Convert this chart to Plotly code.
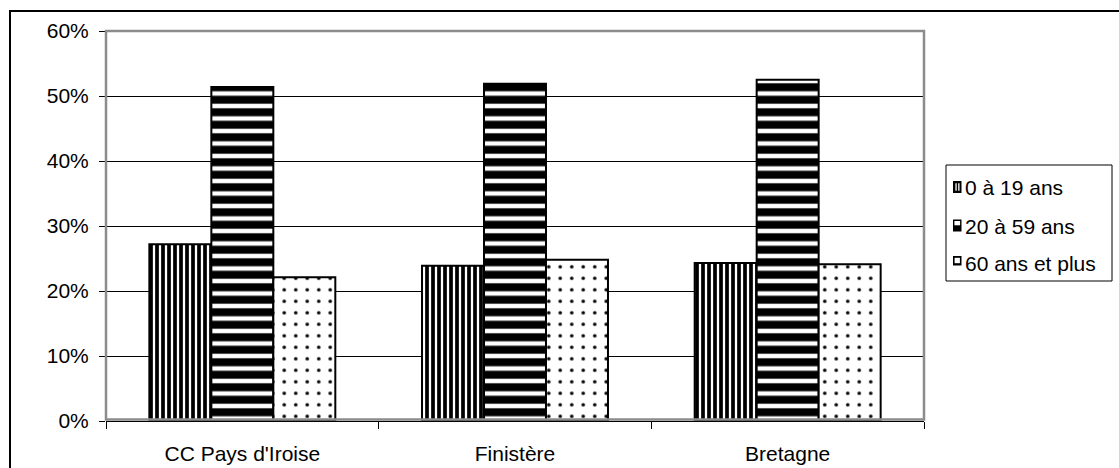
import plotly.graph_objects as go

# Population share by age group (in %)
territoires = ["CC Pays d'Iroise", "Finistère", "Bretagne"]
age_0_19 = [27.2, 23.9, 24.3]
age_20_59 = [51.4, 51.9, 52.5]
age_60_plus = [22.1, 24.8, 24.1]
series_names = ["0 à 19 ans", "20 à 59 ans", "60 ans et plus"]
y_ticks = [0, 10, 20, 30, 40, 50, 60]
y_tick_labels = [f"{v}%" for v in y_ticks]

W, H = 1119, 468
L, R, T, B = 106, 195, 31, 47
PW, PH = W - L - R, H - T - B
FONT = "Liberation Sans, Arial, sans-serif"
FS = 21


def px(x):
    return (x - L) / PW


def py(y):
    return (H - B - y) / PH


patterns = [
    dict(shape="|", size=6, solidity=0.62, fgcolor="black", bgcolor="white", fillmode="replace"),
    dict(shape="-", size=12.5, solidity=0.64, fgcolor="black", bgcolor="white", fillmode="replace"),
    dict(shape=".", size=11.5, solidity=0.075, fgcolor="black", bgcolor="white", fillmode="replace"),
]

fig = go.Figure()
for name, vals, pat in zip(series_names, [age_0_19, age_20_59, age_60_plus], patterns):
    fig.add_trace(go.Bar(
        name=name, x=territoires, y=vals,
        marker=dict(color="white", pattern=pat, line=dict(color="black", width=2)),
        showlegend=False,
    ))

shapes = []
# outer chart frame (runs off the right and bottom edges)
shapes.append(dict(type="rect", xref="paper", yref="paper",
                   x0=px(10), x1=px(1130), y0=py(11), y1=py(480),
                   line=dict(color="black", width=2), layer="below"))
# plot area frame
shapes.append(dict(type="rect", xref="paper", yref="paper",
                   x0=0, x1=1, y0=py(419.5), y1=1,
                   line=dict(color="#8c8c8c", width=2.5), layer="above"))
# legend box
shapes.append(dict(type="rect", xref="paper", yref="paper",
                   x0=px(946), x1=px(1112), y0=py(281), y1=py(165),
                   line=dict(color="black", width=1), fillcolor="white"))


def rect(x0, y0, x1, y1, fill, line_w=0):
    shapes.append(dict(type="rect", xref="paper", yref="paper",
                       x0=px(x0), x1=px(x1), y0=py(y1), y1=py(y0),
                       fillcolor=fill, line=dict(width=line_w, color="black")))


# legend keys
rect(953, 181, 961.5, 193, "black")
rect(955.4, 183.2, 956.7, 190.8, "white")
rect(958.2, 183.2, 959.5, 190.8, "white")
rect(953, 219.5, 961.5, 231.5, "black")
rect(954.4, 221, 960.1, 225.3, "white")
rect(953, 256, 961.5, 265.5, "black")
rect(954.6, 257.8, 959.9, 263.2, "white")

annotations = []
for name, yc in zip(series_names, [187, 226.5, 263.5]):
    annotations.append(dict(text=name, xref="paper", yref="paper",
                            x=px(963), y=py(yc), xanchor="left", yanchor="middle",
                            showarrow=False, font=dict(family=FONT, size=FS, color="black")))

fig.update_layout(
    width=W, height=H,
    margin=dict(l=L, r=R, t=T, b=B, pad=0, autoexpand=False),
    paper_bgcolor="white", plot_bgcolor="white",
    barmode="group", bargap=0.318, bargroupgap=0,
    showlegend=False,
    shapes=shapes, annotations=annotations,
    font=dict(family=FONT, size=FS, color="black"),
)
fig.update_xaxes(
    automargin=False,
    showline=True, linecolor="black", linewidth=1,
    ticks="outside", tickson="boundaries", ticklen=7, tickcolor="black", tickwidth=1,
    showgrid=False, tickfont=dict(family=FONT, size=FS, color="black"),
    ticklabelstandoff=14,
)
fig.update_yaxes(
    automargin=False,
    range=[0, 60], tickmode="array", tickvals=y_ticks, ticktext=y_tick_labels,
    showline=False, zeroline=False,
    showgrid=True, gridcolor="black", gridwidth=1,
    ticks="outside", ticklen=6, tickcolor="black", tickwidth=1,
    tickfont=dict(family=FONT, size=FS, color="black"),
    ticklabelstandoff=6,
)

fig.write_html("out.html")
